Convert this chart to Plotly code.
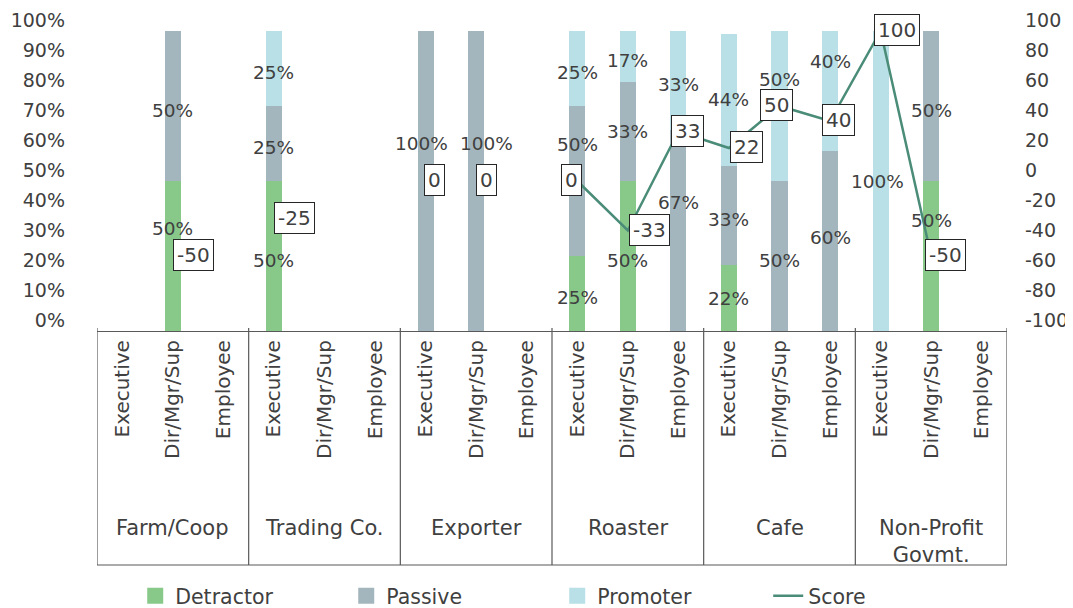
import plotly.graph_objects as go

# ---------------- data ----------------
groups = ["Farm/Coop", "Trading Co.", "Exporter", "Roaster", "Cafe", "Non-Profit<br>Govmt."]
roles = ["Executive", "Dir/Mgr/Sup", "Employee"]

detractor = [None, 50, None,  50, None, None,  None, None, None,  25, 50, None,  22, None, None,  None, 50, None]
passive   = [None, 50, None,  25, None, None,  100, 100, None,    50, 33, 67,    33, 50, 60,      None, 50, None]
promoter  = [None, None, None, 25, None, None, None, None, None,  25, 17, 33,    44, 50, 40,      100, None, None]
score     = [None, -50, None, -25, None, None, 0, 0, None,        0, -33, 33,    22, 50, 40,      100, -50, None]
line_first = 9  # the score line is only drawn from Roaster/Executive onward

left_ticks = [0, 10, 20, 30, 40, 50, 60, 70, 80, 90, 100]
right_ticks = [-100, -80, -60, -40, -20, 0, 20, 40, 60, 80, 100]

# ---------------- style ----------------
C_DET = "#88C98A"
C_PAS = "#A4B6BD"
C_PRO = "#B8E0E6"
C_LINE = "#4A8C78"
TXT = "#404040"
FONT = "DejaVu Sans"
FS_TICK = 19
FS_ROLE = 20
FS_GROUP = 21
FS_LEG = 20.5
FS_LAB = 18.5
FS_BOX = 20

# label nudges in px (positive = up) for segment labels: (series, index) -> px
seg_nudge = {
    ("det", 1): 28, ("pas", 6): 38, ("pas", 7): 38, ("pas", 9): 37,
    ("pas", 11): 28, ("pro", 13): 27, ("pro", 14): 30, ("det", 16): 36,
    ("pas", 10): 0, ("pro", 12): 1, ("pas", 14): 4, ("det", 12): 0, ("pro", 15): 0,
}
seg_dx = {("pas", 6): -4, ("pas", 7): 10, ("pro", 15): -3}
default_nudge = -4
# score box left-edge offsets (px) relative to the point
box_dx = {1: 0, 3: 0, 6: -2, 7: 0, 9: -16, 10: 1, 11: -7, 12: 1, 13: -20, 14: -8, 15: -7, 16: -6}

n = len(groups) * len(roles)
xs = list(range(n))
ticktext = [roles[i % 3] for i in xs]

fig = go.Figure()
for name, vals, col in [("Detractor", detractor, C_DET), ("Passive", passive, C_PAS), ("Promoter", promoter, C_PRO)]:
    fig.add_trace(go.Bar(x=xs, y=vals, name=name, marker=dict(color=col, line=dict(width=0)),
                         width=0.32, hoverinfo="skip", showlegend=False))
    # legend entry with a larger square swatch
    fig.add_trace(go.Scatter(x=[None], y=[None], mode="markers", name=name,
                             marker=dict(symbol="square", size=16, color=col), hoverinfo="skip"))

line_y = [s if i >= line_first else None for i, s in enumerate(score)]
fig.add_trace(go.Scatter(x=xs, y=line_y, yaxis="y2", mode="lines", name="Score",
                         line=dict(color=C_LINE, width=2.5), connectgaps=False, hoverinfo="skip"))

ann = []
# segment labels
for i in xs:
    base = 0
    for key, vals in [("det", detractor), ("pas", passive), ("pro", promoter)]:
        v = vals[i]
        if v is None:
            continue
        mid = base + v / 2
        base += v
        ann.append(dict(x=i, y=mid, xref="x", yref="y", text=f"{v}%", showarrow=False,
                        yshift=seg_nudge.get((key, i), default_nudge), xshift=seg_dx.get((key, i), 0),
                        font=dict(family=FONT, size=FS_LAB, color=TXT)))
# score boxes
for i, s in enumerate(score):
    if s is None:
        continue
    ann.append(dict(x=i, y=s, xref="x", yref="y2", text=str(s), showarrow=False,
                    xanchor="left", yanchor="middle", xshift=box_dx.get(i, 0), yshift=1,
                    bgcolor="white", bordercolor="#262626", borderwidth=1, borderpad=3,
                    font=dict(family=FONT, size=FS_BOX, color=TXT)))
# group labels
for g, name in enumerate(groups):
    ann.append(dict(x=3 * g + 1, y=-0.61, xref="x", yref="paper", text=name, showarrow=False,
                    xanchor="center", yanchor="top", font=dict(family=FONT, size=FS_GROUP, color=TXT)))

shapes = []
for b in [-0.5, 2.5, 5.5, 8.5, 11.5, 14.5, 17.5]:
    shapes.append(dict(type="line", xref="x", yref="paper", x0=b, x1=b, y0=0.01, y1=-0.78,
                       line=dict(color="#595959", width=1.2)))
shapes.append(dict(type="line", xref="x", yref="paper", x0=-0.5, x1=17.5, y0=-0.78, y1=-0.78,
                   line=dict(color="#595959", width=1.2)))

# the page adds an 8px body margin, so the figure is 8px smaller and shifted
fig.update_layout(
    width=1065, height=600,
    margin=dict(l=89, r=66, t=23, b=277, autoexpand=False),
    paper_bgcolor="white", plot_bgcolor="white",
    barmode="stack",
    font=dict(family=FONT, size=FS_TICK, color=TXT),
    xaxis=dict(range=[-0.5, 17.5], tickmode="array", tickvals=xs, ticktext=ticktext,
               tickangle=-90, showgrid=False, zeroline=False, showline=True, automargin=False,
               linecolor="#595959", linewidth=1.2, ticks="",
               tickfont=dict(family=FONT, size=FS_ROLE, color=TXT)),
    yaxis=dict(range=[0, 100], tickmode="array", tickvals=left_ticks,
               ticktext=[f"{t}%" for t in left_ticks],
               showgrid=False, zeroline=False, showline=False, ticklabelshift=-11, automargin=False,
               ticklabelstandoff=31, tickfont=dict(family=FONT, size=FS_TICK, color=TXT)),
    yaxis2=dict(range=[-100, 100], tickmode="array", tickvals=right_ticks,
                ticktext=[str(t) for t in right_ticks], overlaying="y", side="right",
                showgrid=False, zeroline=False, showline=False, ticklabelshift=-11, automargin=False,
                ticklabelstandoff=17, tickfont=dict(family=FONT, size=FS_TICK, color=TXT)),
    legend=dict(orientation="h", x=0.042, xanchor="left", y=-0.883, yanchor="middle",
                entrywidth=166, entrywidthmode="pixels", traceorder="normal",
                font=dict(family=FONT, size=FS_LEG, color=TXT)),
    annotations=ann, shapes=shapes,
)

fig.write_html("out.html")
